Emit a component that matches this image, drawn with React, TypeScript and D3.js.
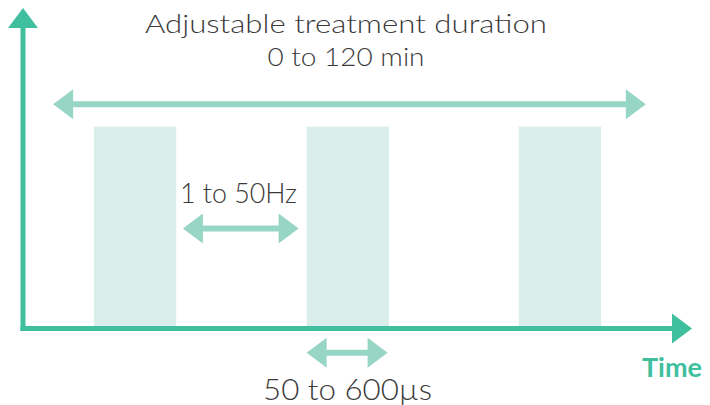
import React from "react";
import * as d3 from "d3";

// Pulse train (schematic time units 0..100)
const pulseStarts = [10.6, 42.4, 74.1];
const pulseWidth = 12.3;
const pulseHeight = 0.63;

// Annotation arrows: [x0, x1, y]
const arrowNames = ["duration", "frequency", "width"];
const arrowX0 = [4.5, 23.9, 42.4];
const arrowX1 = [93.1, 41.2, 54.5];
const arrowY = [0.7, 0.312, -0.076];

const titleLines = ["Adjustable treatment duration", "0 to 120 min"];
const freqLabel = "1 to 50Hz";
const widthLabel = "50 to 600µs";
const axisLabel = "Time";

const W = 710;
const H = 405;
const AXIS = "#40bf9f";
const ARROW = "#97d5c5";
const BAR = "#d9eeea";
const TEXT = "#3a3a3a";
const FONT = "Lato, 'Open Sans', sans-serif";

export default function App() {
  const x = d3.scaleLinear().domain([0, 100]).range([23, 692]);
  const y = d3.scaleLinear().domain([0, 1]).range([328.5, 8]);

  const head = (tipX: number, cy: number, dir: number, len = 20, half = 15) =>
    `M${tipX},${cy} L${tipX - dir * len},${cy - half} L${tipX - dir * len},${cy + half} Z`;

  const dblArrow = (i: number) => {
    const x0 = x(arrowX0[i]);
    const x1 = x(arrowX1[i]);
    const cy = y(arrowY[i]);
    return (
      <g key={arrowNames[i]}>
        <line x1={x0 + 10} x2={x1 - 10} y1={cy} y2={cy} stroke={ARROW} strokeWidth={6} />
        <path d={head(x0, cy, -1)} fill={ARROW} />
        <path d={head(x1, cy, 1)} fill={ARROW} />
      </g>
    );
  };

  const tipY = y(1);

  return (
    <svg width={W} height={H} style={{ position: "absolute", left: 0, top: 0 }}>
      <rect width={W} height={H} fill="#fff" />
      {pulseStarts.map((s, i) => (
        <rect
          key={i}
          x={x(s)}
          width={x(s + pulseWidth) - x(s)}
          y={y(pulseHeight)}
          height={y(0) - y(pulseHeight)}
          fill={BAR}
        />
      ))}
      {arrowNames.map((_, i) => dblArrow(i))}
      {/* axes */}
      <line x1={x(0)} x2={x(0)} y1={y(0) + 2.5} y2={tipY + 18} stroke={AXIS} strokeWidth={5} />
      <path d={`M${x(0)},${tipY} L${x(0) - 15},${tipY + 20} L${x(0) + 15},${tipY + 20} Z`} fill={AXIS} />
      <line x1={x(0) - 2.5} x2={x(100) - 18} y1={y(0)} y2={y(0)} stroke={AXIS} strokeWidth={5} />
      <path d={head(x(100), y(0), 1)} fill={AXIS} />
      {/* text */}
      <g fontFamily={FONT} fontWeight={300} fill={TEXT} textAnchor="middle">
        <text x={346} y={33} fontSize={26} textLength={402} lengthAdjust="spacingAndGlyphs">
          {titleLines[0]}
        </text>
        <text x={346} y={66} fontSize={26} textLength={157} lengthAdjust="spacingAndGlyphs">
          {titleLines[1]}
        </text>
        <text x={238.5} y={203} fontSize={27} textLength={117} lengthAdjust="spacingAndGlyphs">
          {freqLabel}
        </text>
        <text x={347.5} y={400} fontSize={29} textLength={169} lengthAdjust="spacingAndGlyphs">
          {widthLabel}
        </text>
      </g>
      <text
        x={702}
        y={377}
        fontFamily={FONT}
        fontWeight={700}
        fontSize={26}
        fill={AXIS}
        textAnchor="end"
        textLength={60}
        lengthAdjust="spacingAndGlyphs"
      >
        {axisLabel}
      </text>
    </svg>
  );
}
